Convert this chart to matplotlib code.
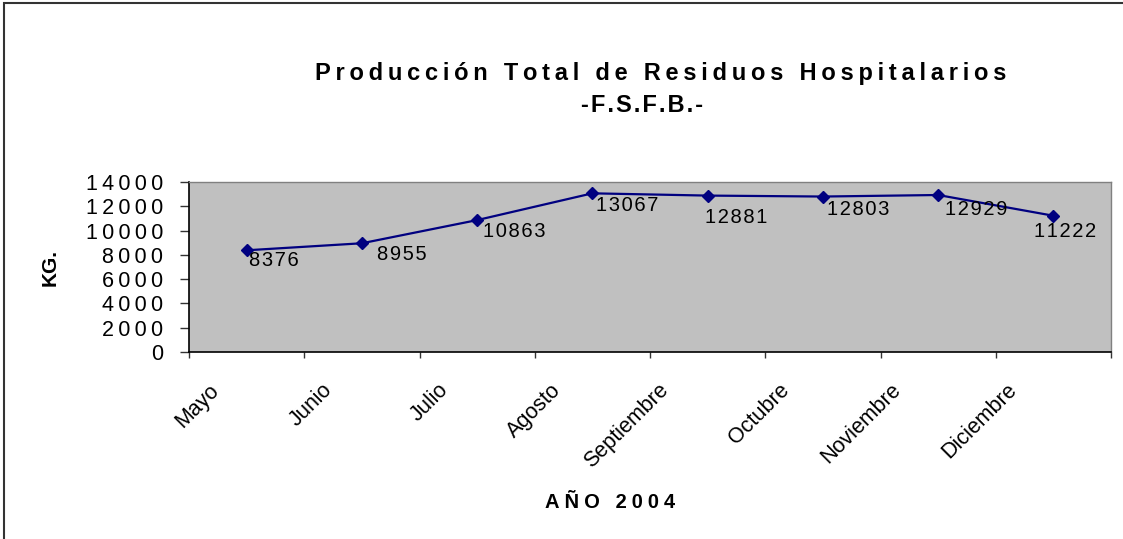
#
# Produccion total de residuos hospitalarios - F.S.F.B. 2004
#
import matplotlib
matplotlib.use("Agg")
import matplotlib.pyplot as plt
import matplotlib.patches as patches
from matplotlib.transforms import ScaledTranslation

meses = ["Mayo", "Junio", "Julio", "Agosto", "Septiembre",
         "Octubre", "Noviembre", "Diciembre"]
kg = [8376, 8955, 10863, 13067, 12881, 12803, 12929, 11222]
yticks = [0, 2000, 4000, 6000, 8000, 10000, 12000, 14000]

# label offsets in pixels (hand placed in the original)
lbl_off = [(2, -10), (15, -11), (6, -11), (4, -12),
           (-3, -22), (4, -13), (7, -14), (-19, -16)]

plt.rcParams['font.family'] = ['Liberation Sans', 'DejaVu Sans']

W, H = 1123, 539
fig = plt.figure(figsize=(W / 100, H / 100), dpi=100)
fig.patch.set_facecolor('white')

def sp(s, sep='\u2009'):
    # excel-ish letter spacing
    return sep.join(s)

def px(dx, dy):
    return ScaledTranslation(dx / 100, dy / 100, fig.dpi_scale_trans)

# plot area in pixels: left 189, right 1111, top 182, bottom 352
ax = fig.add_axes([189 / W, 1 - 352 / H, (1111 - 189) / W, (352 - 182) / H])
ax.set_facecolor('#C0C0C0')

x = [i + 0.5 for i in range(len(kg))]
ax.plot(x, kg, color='#000080', lw=1.6, marker='D', ms=6.5,
        markerfacecolor='#000080', markeredgecolor='#000080')

for xi, v, (dx, dy) in zip(x, kg, lbl_off):
    ax.annotate(sp(str(v), '\u200a'), (xi, v), xytext=(dx, dy),
                textcoords='offset pixels', ha='left', va='center',
                fontsize=14.5, color='black')

ax.set_xlim(0, len(kg))
ax.set_ylim(0, 14000)

ax.set_yticks(yticks)
ax.set_yticklabels([sp(str(t)) for t in yticks], fontsize=15.5)
ax.tick_params(axis='y', direction='out', length=6.5, width=1,
               color='#333333', pad=12)

ax.set_xticks(range(len(kg) + 1))
ax.set_xticklabels([])
ax.tick_params(axis='x', which='major', direction='out', length=4.5,
               width=1, color='#333333')

# rotated month labels, excel pushes the longer ones further left
for xi, m in zip(x, meses):
    dx = -19 - 1.9 * len(m)
    ax.text(xi, 0, m, transform=ax.get_xaxis_transform() + px(dx, -39),
            rotation=45, rotation_mode='anchor', ha='right', va='baseline',
            fontsize=15.5)

for s in ['top', 'right']:
    ax.spines[s].set_color('#808080')
    ax.spines[s].set_linewidth(1)
for s in ['left', 'bottom']:
    ax.spines[s].set_color('black')
    ax.spines[s].set_linewidth(1.2)

fig.text(661 / W, 1 - 80 / H,
         sp("Producción Total de Residuos Hospitalarios"),
         ha='center', va='baseline', fontsize=17, fontweight='bold')
fig.text(642 / W, 1 - 112 / H, sp("-F.S.F.B.-", '\u200a'),
         ha='center', va='baseline', fontsize=17, fontweight='bold')
fig.text(610 / W, 1 - 508 / H, sp("AÑO 2004", '\u2005'),
         ha='center', va='baseline', fontsize=14.5, fontweight='bold')
fig.text(50 / W, 1 - 267 / H, "KG.", rotation=90,
         ha='center', va='center', fontsize=15, fontweight='bold')

# chart border (open at right/bottom like the crop)
fig.add_artist(patches.Rectangle((4 / W, -0.05), 1.0, 1 - 3 / H + 0.05,
                                 transform=fig.transFigure, fill=False,
                                 lw=1.5, ec='#333333'))

fig.savefig('out.png', dpi=100)
